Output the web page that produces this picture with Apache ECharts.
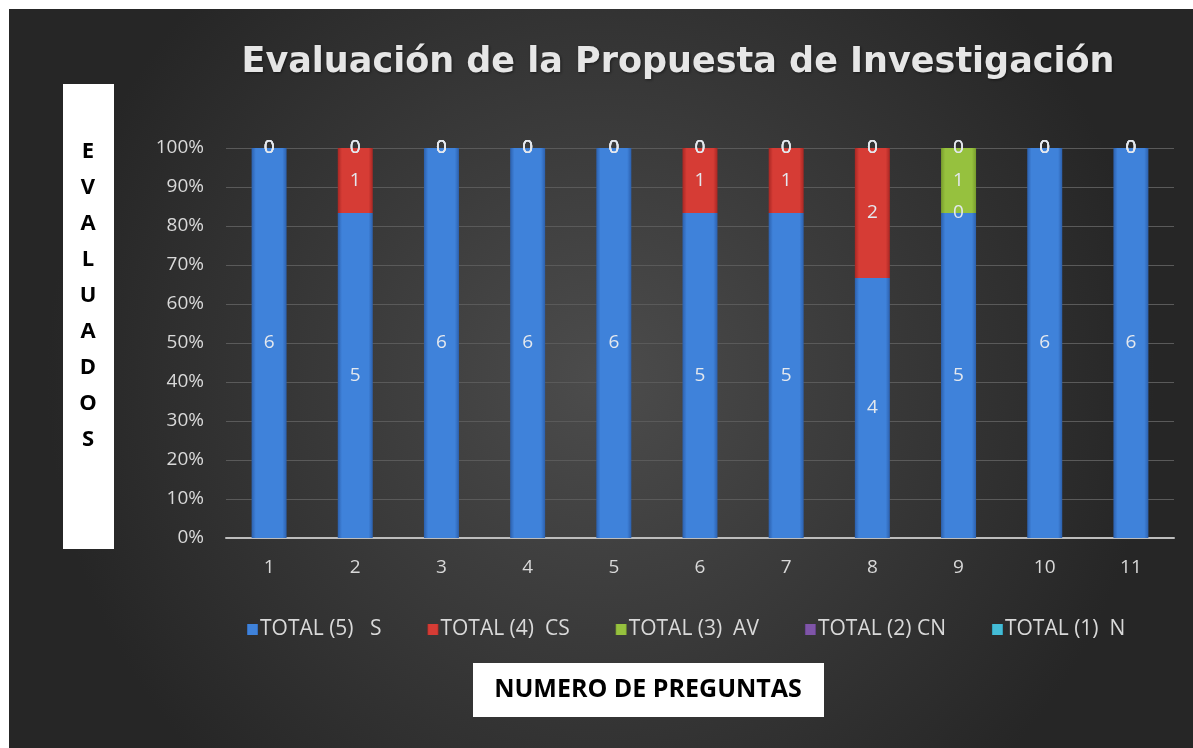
<!DOCTYPE html>
<html>
<head>
<meta charset="utf-8">
<script src="https://cdn.jsdelivr.net/npm/echarts@6/dist/echarts.min.js"></script>
<style>
  html, body { margin: 0; padding: 0; background: #ffffff; }
  #chart { position: absolute; left: 9px; top: 9px; width: 1184px; height: 739px; }
</style>
</head>
<body>
<div id="chart"></div>
<script>
// Question numbers on the x axis
const preguntas = ['1', '2', '3', '4', '5', '6', '7', '8', '9', '10', '11'];

// Number of evaluators per answer level, per question
const totalS  = [6, 5, 6, 6, 6, 5, 5, 4, 5, 6, 6];
const totalCS = [0, 1, 0, 0, 0, 1, 1, 2, 0, 0, 0];
const totalAV = [0, 0, 0, 0, 0, 0, 0, 0, 1, 0, 0];
const totalCN = [0, 0, 0, 0, 0, 0, 0, 0, 0, 0, 0];
const totalN  = [0, 0, 0, 0, 0, 0, 0, 0, 0, 0, 0];

const seriesNames = ['TOTAL (5)   S', 'TOTAL (4)  CS', 'TOTAL (3)  AV', 'TOTAL (2) CN', 'TOTAL (1)  N'];
const yAxisTitle = 'EVALUADOS';
const xAxisTitle = 'NUMERO DE PREGUNTAS';
const chartTitle = 'Evaluación de la Propuesta de Investigación';

const counts = [totalS, totalCS, totalAV, totalCN, totalN];
const palette = [
  ['#2c60ad', '#3f82da'],
  ['#a82723', '#d63c35'],
  ['#789d2c', '#96c13e'],
  ['#5e3a85', '#7f55a8'],
  ['#2a96ad', '#44bcd6']
];

// per-question totals, used to turn counts into a 100% stack
const totals = preguntas.map((_, i) => counts.reduce((s, arr) => s + arr[i], 0));

function barGradient(c) {
  return new echarts.graphic.LinearGradient(0, 0, 1, 0, [
    { offset: 0, color: c[0] },
    { offset: 0.12, color: c[1] },
    { offset: 0.88, color: c[1] },
    { offset: 1, color: c[0] }
  ]);
}

const series = counts.map((arr, k) => ({
  name: seriesNames[k],
  type: 'bar',
  stack: 'total',
  barWidth: 35,
  itemStyle: { color: barGradient(palette[k]) },
  label: {
    show: true,
    position: 'inside',
    color: '#e4e8ee',
    fontFamily: 'Open Sans',
    fontSize: 19,
    formatter: p => String(arr[p.dataIndex])
  },
  data: arr.map((v, i) => totals[i] ? v / totals[i] * 100 : 0)
}));

const chart = echarts.init(document.getElementById('chart'));
chart.setOption({
  backgroundColor: {
    type: 'radial', x: 0.5, y: 0.5, r: 0.75,
    colorStops: [
      { offset: 0, color: '#4c4c4c' },
      { offset: 1, color: '#262626' }
    ]
  },
  animation: false,
  title: {
    text: chartTitle,
    left: 664,
    top: 31,
    textAlign: 'center',
    textStyle: {
      color: '#e6e6e6',
      fontFamily: 'DejaVu Sans',
      fontWeight: 'bold',
      fontSize: 35,
      textShadowColor: 'rgba(0,0,0,0.5)',
      textShadowBlur: 3,
      textShadowOffsetX: 1,
      textShadowOffsetY: 1
    }
  },
  legend: {
    left: 233,
    top: 605,
    itemWidth: 11,
    itemHeight: 11,
    itemGap: 46,
    icon: 'rect',
    textStyle: { color: '#d9d9d9', fontFamily: 'Open Sans', fontSize: 21, padding: [0, 0, 0, -3] },
    data: seriesNames
  },
  grid: { left: 217, right: 19, top: 139, bottom: 210 },
  xAxis: {
    type: 'category',
    data: preguntas,
    axisLine: { lineStyle: { color: '#bdbdbd', width: 2 } },
    axisTick: { show: false },
    axisLabel: { color: '#d9d9d9', fontFamily: 'Open Sans', fontSize: 19, margin: 20 }
  },
  yAxis: {
    type: 'value',
    min: 0,
    max: 100,
    interval: 10,
    axisLine: { show: false },
    axisTick: { show: false },
    splitLine: { lineStyle: { color: '#5a5a5a', width: 1 } },
    axisLabel: { color: '#d9d9d9', fontFamily: 'Open Sans', fontSize: 19, margin: 22, formatter: '{value}%' }
  },
  graphic: [
    {
      type: 'rect', left: 54, top: 75,
      shape: { width: 51, height: 465 },
      style: { fill: '#ffffff' }, z: 10
    },
    {
      type: 'text', x: 79, y: 125,
      style: {
        text: yAxisTitle.split('').join('\n'),
        fill: '#000000',
        font: 'bold 22px "Open Sans"',
        lineHeight: 36,
        align: 'center',
        verticalAlign: 'top'
      },
      z: 11
    },
    {
      type: 'rect', left: 464, top: 654,
      shape: { width: 351, height: 54 },
      style: { fill: '#ffffff' }, z: 10
    },
    {
      type: 'text', x: 639, y: 681,
      style: {
        text: xAxisTitle,
        fill: '#000000',
        font: 'bold 25px "Open Sans"',
        align: 'center',
        verticalAlign: 'middle'
      },
      z: 11
    }
  ],
  series: series
});
</script>
</body>
</html>
